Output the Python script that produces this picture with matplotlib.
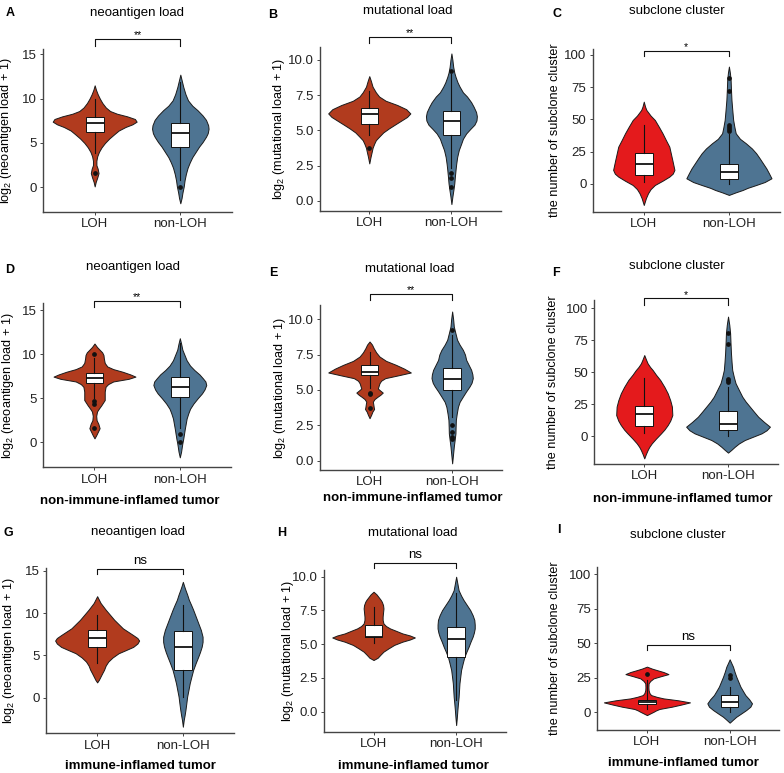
import matplotlib
matplotlib.use("Agg")
import matplotlib.pyplot as plt
import numpy as np

plt.rcParams['font.family'] = ['Liberation Sans', 'DejaVu Sans']
plt.rcParams['mathtext.fontset'] = 'custom'
plt.rcParams['mathtext.rm'] = 'Liberation Sans'
plt.rcParams['mathtext.it'] = 'Liberation Sans:italic'
plt.rcParams['mathtext.bf'] = 'Liberation Sans:bold'

# ---------------- data ----------------
groups = ["LOH", "non-LOH"]
panel_letters = ["A", "B", "C", "D", "E", "F", "G", "H", "I"]
titles = ["neoantigen load", "mutational load", "subclone cluster"] * 3
ylabels = ["log$_\\mathregular{2}$ (neoantigen load + 1)",
           "log$_\\mathregular{2}$ (mutational load + 1)",
           "the number of subclone cluster"] * 3
row_xlabels = ["", "non-immune-inflamed tumor", "immune-inflamed tumor"]
sig_labels = ["**", "**", "*", "**", "**", "*", "ns", "ns", "ns"]
yticks_neo = [0, 5, 10, 15]
yticks_mut = [0.0, 2.5, 5.0, 7.5, 10.0]
yticks_sub = [0, 25, 50, 75, 100]

# violin density profiles: (y value, half width)
A_LOH = [(11.5,0),(11.0,0.015),(10.5,0.035),(10.0,0.06),(9.5,0.09),(9.0,0.13),(8.6,0.18),(8.3,0.26),(8.0,0.38),(7.7,0.47),(7.4,0.49),(7.1,0.44),(6.8,0.36),(6.4,0.28),(6.0,0.23),(5.5,0.17),(5.0,0.12),(4.5,0.08),(4.0,0.05),(3.5,0.03),(3.0,0.02),(2.5,0.02),(2.1,0.035),(1.6,0.045),(1.1,0.03),(0.6,0.012),(0.1,0)]
A_NON = [(12.7,0),(11.9,0.02),(11.3,0.035),(10.5,0.06),(9.8,0.09),(9.2,0.14),(8.7,0.2),(8.1,0.26),(7.6,0.30),(7.0,0.325),(6.6,0.33),(6.1,0.32),(5.7,0.30),(5.1,0.26),(4.6,0.22),(4.0,0.18),(3.4,0.14),(2.8,0.11),(2.2,0.085),(1.5,0.065),(0.8,0.05),(0.1,0.04),(-0.6,0.025),(-1.2,0.015),(-1.8,0)]
B_LOH = [(8.85,0),(8.5,0.02),(8.1,0.04),(7.7,0.08),(7.4,0.12),(7.1,0.2),(6.8,0.34),(6.5,0.45),(6.2,0.5),(5.95,0.46),(5.73,0.4),(5.4,0.31),(5.14,0.24),(4.85,0.17),(4.55,0.12),(4.3,0.08),(4.05,0.06),(3.75,0.04),(3.48,0.03),(3.1,0.015),(2.65,0)]
B_NON = [(10.46,0),(10.0,0.012),(9.5,0.022),(9.1,0.035),(8.8,0.05),(8.4,0.075),(8.1,0.1),(7.7,0.14),(7.4,0.19),(7.0,0.24),(6.68,0.27),(6.3,0.3),(6.0,0.31),(5.7,0.305),(5.4,0.28),(5.1,0.23),(4.78,0.18),(4.4,0.14),(4.07,0.12),(3.6,0.09),(3.1,0.07),(2.6,0.058),(2.18,0.05),(1.7,0.042),(1.23,0.035),(0.8,0.025),(0.3,0.012),(-0.24,0)]
C_LOH = [(63.8,0),(60,0.015),(57.4,0.03),(53,0.08),(49.6,0.13),(44,0.18),(39.3,0.22),(34,0.26),(28.9,0.3),(23,0.32),(18.6,0.335),(14,0.35),(10.9,0.36),(8,0.34),(5.7,0.3),(2.5,0.22),(-0.8,0.13),(-4,0.08),(-7.2,0.05),(-11,0.025),(-16.3,0)]
C_NON = [(91,0),(86,0.012),(80.6,0.02),(72,0.025),(65,0.03),(57,0.04),(49.6,0.05),(44,0.065),(39.3,0.08),(35,0.13),(31.5,0.2),(27.5,0.27),(23.8,0.32),(20,0.36),(16,0.4),(12,0.44),(8.3,0.47),(4.4,0.5),(1.5,0.42),(-0.8,0.32),(-3,0.22),(-4.7,0.16),(-6.5,0.08),(-8.5,0)]
D_LOH = [(11.2,0),(10.8,0.03),(10.5,0.06),(10.2,0.09),(9.9,0.105),(9.5,0.11),(9.0,0.12),(8.6,0.15),(8.3,0.22),(8.0,0.33),(7.7,0.42),(7.45,0.48),(7.2,0.40),(6.9,0.22),(6.6,0.16),(6.3,0.13),(5.75,0.12),(5.2,0.12),(4.8,0.12),(4.5,0.10),(4.2,0.08),(3.8,0.05),(3.5,0.03),(3.0,0.02),(2.5,0.025),(2.1,0.045),(1.6,0.06),(1.2,0.04),(0.8,0.02),(0.45,0)]
D_NON = [(11.8,0),(11.2,0.015),(10.5,0.03),(9.9,0.055),(9.3,0.08),(8.7,0.12),(8.2,0.17),(7.7,0.23),(7.26,0.27),(6.9,0.3),(6.5,0.31),(6.0,0.29),(5.55,0.26),(5.0,0.21),(4.4,0.16),(3.8,0.12),(3.3,0.1),(2.7,0.08),(2.15,0.07),(1.5,0.058),(1.0,0.05),(0.4,0.04),(-0.1,0.03),(-0.6,0.022),(-1.06,0.015),(-1.7,0)]
E_LOH = [(8.42,0),(8.2,0.03),(7.95,0.05),(7.65,0.08),(7.36,0.12),(7.05,0.2),(6.77,0.32),(6.5,0.42),(6.23,0.5),(6.02,0.34),(5.83,0.19),(5.65,0.14),(5.47,0.12),(5.1,0.1),(4.95,0.13),(4.81,0.16),(4.65,0.13),(4.53,0.1),(4.35,0.06),(4.17,0.04),(4.0,0.045),(3.8,0.05),(3.65,0.055),(3.47,0.035),(3.25,0.02),(3.0,0)]
E_NON = [(10.54,0),(10.0,0.012),(9.48,0.02),(9.0,0.04),(8.54,0.06),(8.2,0.09),(7.83,0.13),(7.5,0.155),(7.12,0.17),(6.77,0.2),(6.42,0.23),(6.1,0.245),(5.83,0.25),(5.5,0.235),(5.24,0.21),(4.9,0.17),(4.53,0.13),(4.15,0.09),(3.8,0.07),(3.3,0.055),(2.88,0.045),(2.4,0.042),(1.93,0.04),(1.45,0.03),(0.99,0.02),(0.4,0.01),(-0.19,0)]
F_LOH = [(63.4,0),(60,0.02),(56.9,0.04),(54,0.07),(51.7,0.1),(48,0.14),(43.9,0.19),(38.5,0.24),(33.4,0.28),(28,0.31),(23,0.33),(16.4,0.335),(12,0.31),(8.6,0.28),(5,0.24),(2.1,0.2),(-2,0.14),(-5.7,0.09),(-8.5,0.06),(-11,0.04),(-14,0.02),(-17.5,0)]
F_NON = [(93.5,0),(87,0.015),(80.4,0.025),(72,0.03),(64.8,0.035),(58,0.042),(51.7,0.05),(46,0.07),(41.3,0.09),(36,0.13),(30.8,0.17),(27,0.21),(23,0.26),(19,0.31),(15.1,0.36),(11,0.43),(7.3,0.5),(4.5,0.46),(2.1,0.4),(-0.5,0.3),(-3.1,0.2),(-5.8,0.13),(-8.4,0.08),(-10.8,0.04),(-13,0)]
G_LOH = [(12.0,0),(11.6,0.02),(11.2,0.04),(10.8,0.07),(10.4,0.1),(9.8,0.15),(9.2,0.2),(8.7,0.25),(8.2,0.3),(7.8,0.36),(7.4,0.42),(7.05,0.47),(6.75,0.49),(6.4,0.47),(6.0,0.42),(5.6,0.33),(5.25,0.25),(4.75,0.18),(4.27,0.13),(3.8,0.1),(3.28,0.08),(2.9,0.06),(2.5,0.04),(2.1,0.02),(1.8,0)]
G_NON = [(13.7,0),(13.2,0.015),(12.75,0.03),(12.2,0.05),(11.57,0.07),(11.0,0.095),(10.4,0.12),(9.6,0.15),(8.8,0.18),(8.0,0.21),(7.2,0.23),(6.6,0.23),(6.04,0.22),(5.4,0.2),(4.86,0.18),(4.1,0.15),(3.28,0.12),(2.5,0.1),(1.7,0.08),(0.9,0.065),(0.12,0.05),(-0.7,0.04),(-1.46,0.03),(-2.1,0.02),(-2.65,0.01),(-3.44,0)]
H_LOH = [(8.89,0),(8.7,0.035),(8.5,0.06),(8.3,0.085),(8.15,0.1),(7.9,0.115),(7.65,0.12),(7.35,0.115),(7.04,0.11),(6.8,0.11),(6.54,0.12),(6.35,0.15),(6.17,0.2),(6.0,0.27),(5.8,0.35),(5.65,0.44),(5.5,0.5),(5.35,0.44),(5.19,0.35),(4.95,0.25),(4.69,0.18),(4.45,0.12),(4.2,0.08),(4.0,0.05),(3.83,0)]
H_NON = [(10.0,0),(9.5,0.015),(9.0,0.03),(8.6,0.06),(8.27,0.09),(7.9,0.13),(7.53,0.17),(7.15,0.2),(6.8,0.22),(6.45,0.225),(6.17,0.225),(5.86,0.215),(5.56,0.2),(5.2,0.175),(4.8,0.15),(4.45,0.125),(4.07,0.1),(3.6,0.08),(3.09,0.06),(2.6,0.05),(2.1,0.04),(1.6,0.035),(1.11,0.03),(0.6,0.022),(0.12,0.015),(-0.45,0.008),(-0.99,0)]
I_LOH = [(32.9,0),(31.5,0.06),(30.4,0.12),(29,0.2),(27.5,0.26),(26,0.17),(24.4,0.08),(22.5,0.04),(20.8,0.02),(18,0.018),(15.9,0.02),(13.8,0.03),(12.3,0.05),(11,0.12),(9.9,0.2),(8.5,0.38),(7.0,0.52),(5.5,0.42),(3.86,0.3),(3.0,0.22),(2.2,0.15),(1.2,0.11),(0.2,0.08),(-1,0.04),(-2.2,0)]
I_NON = [(38.2,0),(35.5,0.02),(32.9,0.04),(29,0.06),(25.6,0.08),(22,0.105),(18.4,0.13),(15.3,0.16),(12.3,0.19),(9.3,0.235),(6.3,0.27),(3.9,0.25),(1.45,0.2),(-1,0.14),(-3.4,0.08),(-5.5,0.04),(-7.7,0)]

# box stats: [whisker low, q1, median, q3, whisker high]; outliers
A_LOH_BOX = [3.83, 6.2, 7.2, 7.9, 9.96];   A_LOH_OUT = [1.58]
A_NON_BOX = [0.8, 4.59, 6.17, 7.29, 11.9]; A_NON_OUT = [0.0]
B_LOH_BOX = [4.66, 5.47, 6.13, 6.6, 7.81]; B_LOH_OUT = [3.72]
B_NON_BOX = [2.3, 4.66, 5.66, 6.37, 9.0];  B_NON_OUT = [9.2, 1.99, 1.59, 0.99]
C_LOH_BOX = [1.8, 7.0, 15.2, 23.8, 45.7];  C_LOH_OUT = []
C_NON_BOX = [0, 3.9, 9.0, 15.5, 39];       C_NON_OUT = [41, 43, 44, 46, 72, 82]
D_LOH_BOX = [5.0, 6.69, 7.26, 7.9, 9.6];   D_LOH_OUT = [10.0, 4.7, 4.4, 1.6]
D_NON_BOX = [1.6, 5.1, 6.3, 7.37, 11.3];   D_NON_OUT = [1.0, 0.0]
E_LOH_BOX = [5.12, 6.06, 6.25, 6.77, 7.71]; E_LOH_OUT = [4.8, 4.7, 3.7]
E_NON_BOX = [3.1, 5.0, 5.75, 6.53, 8.9];   E_NON_OUT = [9.2, 2.55, 2.0, 1.65, 1.5]
F_LOH_BOX = [2.1, 8.1, 17.2, 23.8, 45.2];  F_LOH_OUT = []
F_NON_BOX = [0, 4.7, 9.1, 19.6, 38.6];     F_NON_OUT = [42, 44, 45, 72, 81]
G_LOH_BOX = [4.07, 6.04, 7.03, 8.0, 9.8];  G_LOH_OUT = []
G_NON_BOX = [0.12, 3.28, 5.96, 7.94, 10.9]; G_NON_OUT = []
H_LOH_BOX = [5.06, 5.5, 5.5, 6.42, 7.73];  H_LOH_OUT = []
H_NON_BOX = [0.86, 4.07, 5.38, 6.25, 8.77]; H_NON_OUT = []
I_LOH_BOX = [2.2, 5.8, 7.2, 8.7, 23.2];    I_LOH_OUT = [27.5]
I_NON_BOX = [0, 3.4, 7.5, 12.3, 18.4];     I_NON_OUT = [27, 25]

# ---------------- layout (pixels) ----------------
W, H = 784, 773
# left, right, top, bottom (px from top), ylim
axes_px = {
    "A": (43.3, 231.7, 49.3, 211.7, (-2.75, 15.56)),
    "B": (320, 500.7, 46.7, 210.7, (-0.71, 10.94)),
    "C": (592.7, 780, 49.3, 211.7, (-21.5, 104.4)),
    "D": (43.3, 231, 303.3, 467.3, (-2.83, 15.76)),
    "E": (320, 501.7, 305, 470, (-0.66, 11.0)),
    "F": (594, 778.3, 300, 464, (-21.9, 106.5)),
    "G": (45.7, 234.3, 568.3, 733.3, (-4.22, 15.3)),
    "H": (324, 505.7, 570, 731.7, (-1.48, 10.5)),
    "I": (597.3, 779.3, 566.7, 730, (-13.0, 105.3)),
}
bracket_pos = {"A": (16.72, 15.94), "B": (11.65, 11.23), "C": (103.3, 99.2),
               "D": (16.05, 15.37), "E": (11.77, 11.32), "F": (107.8, 102.6),
               "G": (15.24, 14.64), "H": (11.04, 10.62), "I": (48.5, 45.0)}
title_px = {"A": (137, 13), "B": (408, 11), "C": (677, 11), "D": (133, 267), "E": (410, 269),
            "F": (677, 266), "G": (138, 532), "H": (413, 533), "I": (678, 535)}
letter_px = {"A": (10, 13), "B": (273, 15), "C": (557, 14), "D": (10, 270), "E": (273, 273),
             "F": (556, 273), "G": (8, 533), "H": (282, 533), "I": (559, 530)}
ylabel_x_px = {"A": 6.5, "B": 278.7, "C": 554.5, "D": 8.5, "E": 280.5, "F": 552.5,
               "G": 9.0, "H": 287.5, "I": 554.5}
xlabel_px = {"D": (130, 500.7), "E": (413, 498.3), "F": (683, 499.3),
             "G": (140, 766), "H": (413, 766), "I": (683, 763.3)}

RUST = "#B13B1E"
RED = "#E41A1C"
BLUE = "#4E7492"
AXC = "#444444"
FS = 9.5

fig = plt.figure(figsize=(W / 100, H / 100), dpi=100)
fig.patch.set_facecolor("white")

profiles = {k: (globals()[k + "_LOH"], globals()[k + "_NON"]) for k in panel_letters}
boxes = {k: ((globals()[k + "_LOH_BOX"], globals()[k + "_LOH_OUT"]),
             (globals()[k + "_NON_BOX"], globals()[k + "_NON_OUT"])) for k in panel_letters}

for i, key in enumerate(panel_letters):
    l, r, t, b, ylim = axes_px[key]
    ax = fig.add_axes([l / W, 1 - b / H, (r - l) / W, (b - t) / H])
    col = i % 3
    row = i // 3
    loh_color = RED if col == 2 else RUST
    colors = [loh_color, BLUE]

    vpstats = []
    widths = []
    for prof in profiles[key]:
        ys = np.array([p[0] for p in prof])[::-1]
        ws = np.array([p[1] for p in prof])[::-1]
        vpstats.append(dict(coords=ys, vals=ws, mean=np.nan, median=np.nan,
                            min=ys.min(), max=ys.max()))
        widths.append(2 * ws.max())
    parts = ax.violin(vpstats, positions=[1, 2], widths=widths,
                      showmeans=False, showextrema=False, showmedians=False)
    for body, c in zip(parts['bodies'], colors):
        body.set_facecolor(c)
        body.set_edgecolor("#1a1a1a")
        body.set_linewidth(0.7)
        body.set_alpha(1)
        body.set_zorder(1)

    bstats = []
    for (bx, out) in boxes[key]:
        bstats.append(dict(whislo=bx[0], q1=bx[1], med=bx[2], q3=bx[3], whishi=bx[4],
                           fliers=np.array(out, dtype=float)))
    ax.bxp(bstats, positions=[1, 2], widths=0.21, patch_artist=True, showcaps=False,
           showfliers=True, manage_ticks=False,
           boxprops=dict(facecolor="white", edgecolor="#111111", linewidth=0.7),
           medianprops=dict(color="#111111", linewidth=1.3),
           whiskerprops=dict(color="#111111", linewidth=0.8),
           flierprops=dict(marker="o", markersize=2.4, markerfacecolor="#111111",
                           markeredgecolor="#111111", linestyle="none"),
           zorder=3)

    ax.set_xlim(0.4, 2.6)
    ax.set_ylim(*ylim)
    ax.set_xticks([1, 2])
    ax.set_xticklabels(groups, fontsize=FS, color="#222222")
    yt = [yticks_neo, yticks_mut, yticks_sub][col]
    ax.set_yticks(yt)
    if col == 1:
        ax.set_yticklabels([f"{v:.1f}" for v in yt], fontsize=FS, color="#222222")
    else:
        ax.set_yticklabels([f"{v:g}" for v in yt], fontsize=FS, color="#222222")
    ax.tick_params(axis="both", length=2.5, width=0.7, color=AXC, pad=2)
    for s in ["top", "right"]:
        ax.spines[s].set_visible(False)
    for s in ["left", "bottom"]:
        ax.spines[s].set_color(AXC)
        ax.spines[s].set_linewidth(1.0)
    ax.patch.set_alpha(0)

    yb, ytk = bracket_pos[key]
    ax.plot([1, 1, 2, 2], [ytk, yb, yb, ytk], color="#111111", lw=0.8,
            clip_on=False, zorder=5)
    sig = sig_labels[i]
    ax.annotate(sig, xy=(1.5, yb), xytext=(0, 1.5 if sig == "ns" else -1),
                textcoords="offset points", ha="center", va="bottom",
                fontsize=FS if sig == "ns" else 7.5, annotation_clip=False)

    tx, ty = title_px[key]
    fig.text(tx / W, 1 - ty / H, titles[i], ha="center", va="center", fontsize=FS)
    lx, ly = letter_px[key]
    fig.text(lx / W, 1 - ly / H, key, ha="center", va="center", fontsize=9,
             fontweight="bold")
    fig.text(ylabel_x_px[key] / W, 1 - ((t + b) / 2) / H, ylabels[i], rotation=90,
             ha="center", va="center", fontsize=9.1)
    if row > 0:
        xx, xy = xlabel_px[key]
        fig.text(xx / W, 1 - xy / H, row_xlabels[row], ha="center", va="center",
                 fontsize=FS, fontweight="bold")

fig.savefig("out.png", dpi=100, facecolor="white")
